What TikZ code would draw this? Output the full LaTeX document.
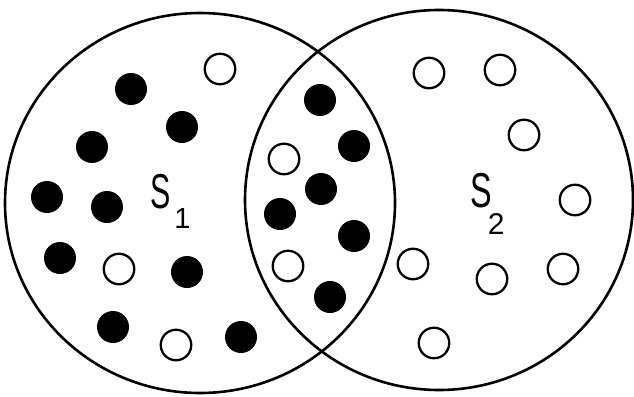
\documentclass[tikz,border=0pt]{standalone}
\usepackage{fontspec}
\setmainfont{Liberation Sans}
\begin{document}
\begin{tikzpicture}[x=1pt,y=-1pt,
  bigset/.style={draw=black,line width=2.6pt},
  fulldot/.style={circle,fill=black,inner sep=0pt,minimum size=32pt},
  emptydot/.style={circle,draw=black,fill=white,line width=2.3pt,inner sep=0pt,minimum size=30.5pt},
  setlabel/.style={inner sep=0pt,anchor=base west,font=\fontsize{49}{49}\selectfont}
]
\useasboundingbox[fill=white] (0,0) rectangle (634,396);
% the two sets
\draw[bigset] (200,203) ellipse [x radius=195, y radius=190];
\draw[bigset] (439,200) ellipse [x radius=194, y radius=190];
% left circle only
\node[emptydot] (a1) at (220,69) {};
\node[fulldot] (a2) at (131,89) {};
\node[fulldot] (a3) at (182,127) {};
\node[fulldot] (a4) at (92,147) {};
\node[fulldot] (a5) at (47,197) {};
\node[fulldot] (a6) at (107,207) {};
\node[fulldot] (a7) at (60,258) {};
\node[emptydot] (a8) at (119,269) {};
\node[fulldot] (a9) at (187,272) {};
\node[fulldot] (a10) at (113,327) {};
\node[emptydot] (a11) at (176,345) {};
\node[fulldot] (a12) at (241,337) {};
% intersection
\node[fulldot] (b1) at (320,100) {};
\node[fulldot] (b2) at (354,146) {};
\node[emptydot] (b3) at (284,159) {};
\node[fulldot] (b4) at (321,189) {};
\node[fulldot] (b5) at (280,214) {};
\node[fulldot] (b6) at (354,236) {};
\node[emptydot] (b7) at (288,266) {};
\node[fulldot] (b8) at (330,297) {};
% right circle only
\node[emptydot] (c1) at (429,73) {};
\node[emptydot] (c2) at (500,70) {};
\node[emptydot] (c3) at (524,135) {};
\node[emptydot] (c4) at (575,200) {};
\node[emptydot] (c5) at (413,264) {};
\node[emptydot] (c6) at (492,279) {};
\node[emptydot] (c7) at (563,269) {};
\node[emptydot] (c8) at (434,343) {};
% labels
\node[setlabel] (s1) at (150,208) {\scalebox{0.62}[1]{S}\kern4pt\raisebox{-20pt}{\fontsize{29}{29}\selectfont 1}};
\node[setlabel] (s2) at (470,207) {\scalebox{0.66}[1]{S}\kern-4pt\raisebox{-27pt}{\fontsize{30}{30}\selectfont 2}};
\end{tikzpicture}
\end{document}
